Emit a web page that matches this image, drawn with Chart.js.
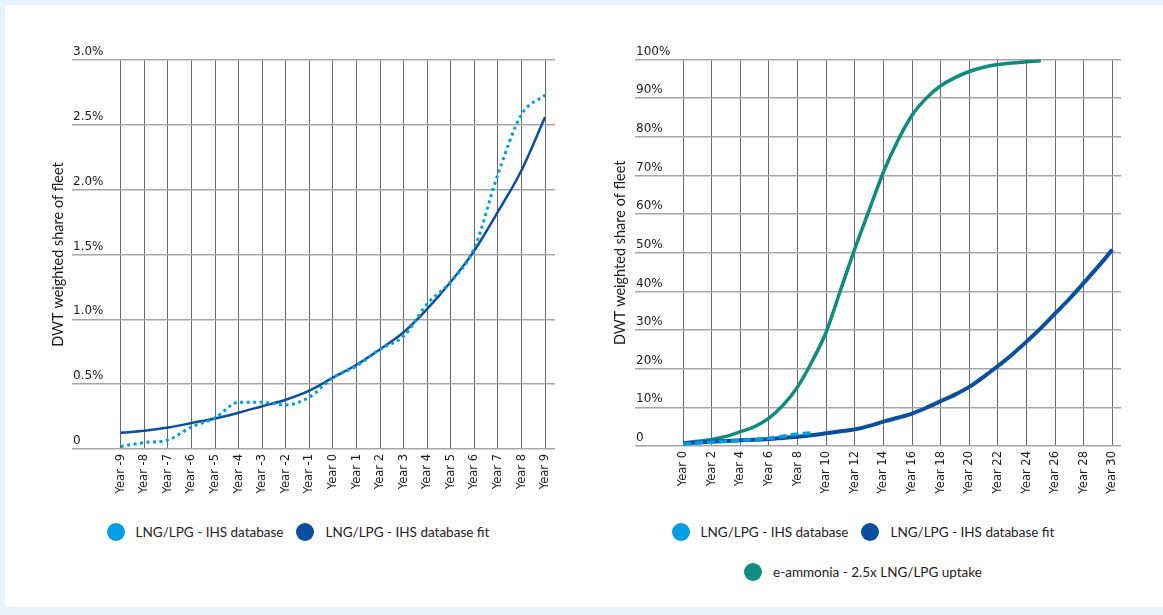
<!DOCTYPE html>
<html>
<head>
<meta charset="utf-8">
<script src="https://cdn.jsdelivr.net/npm/chart.js@4.4.1/dist/chart.umd.min.js"></script>
<style>
  body { margin: 0; width: 1163px; height: 615px; background: #e9f1f9; position: relative; overflow: hidden; font-family: Lato, "Noto Sans", sans-serif; }
  .panel { position: absolute; left: 5px; top: 5px; width: 1158px; height: 602px; background: #fff; }
  canvas { position: absolute; }
  .legend { position: absolute; width: 520px; display: flex; flex-direction: column; align-items: center; gap: 20px; }
  .legend-row { display: flex; align-items: center; gap: 13px; height: 20px; }
  .legend-item { display: flex; align-items: center; gap: 11px; font-size: 13.5px; color: #222; white-space: nowrap; }
  .legend-dot { width: 18px; height: 18px; border-radius: 50%; }
</style>
</head>
<body>
<div class="panel"></div>
<canvas id="historyChart" width="540" height="500" style="left:30px; top:20px;"></canvas>
<canvas id="projectionChart" width="545" height="500" style="left:590px; top:20px;"></canvas>
<div class="legend" id="historyLegend" style="left:38px; top:522px;"></div>
<div class="legend" id="projectionLegend" style="left:603px; top:522px;"></div>

<script>
// Historical uptake, years before/after reference year
const historyYears = [-9, -8, -7, -6, -5, -4, -3, -2, -1, 0, 1, 2, 3, 4, 5, 6, 7, 8, 9];
const historyDatabase = [0.02, 0.05, 0.07, 0.17, 0.24, 0.36, 0.36, 0.34, 0.40, 0.55, 0.64, 0.77, 0.87, 1.12, 1.29, 1.55, 2.12, 2.58, 2.73];
const historyFit = [0.125, 0.14, 0.165, 0.20, 0.235, 0.28, 0.33, 0.38, 0.45, 0.55, 0.65, 0.77, 0.90, 1.08, 1.29, 1.53, 1.83, 2.15, 2.56];
const historyTicks = [0, 0.5, 1.0, 1.5, 2.0, 2.5, 3.0];

// Projection from year 0
const projectionYears = [0, 1, 2, 3, 4, 5, 6, 7, 8, 9, 10, 11, 12, 13, 14, 15, 16, 17, 18, 19, 20, 21, 22, 23, 24, 25, 26, 27, 28, 29, 30];
const projectionDatabase = [0.5, 0.8, 1.0, 1.2, 1.4, 1.7, 2.0, 2.5, 3.1, 3.4];
const projectionFit = [0.7, 0.9, 1.1, 1.3, 1.5, 1.6, 1.8, 2.1, 2.4, 2.8, 3.3, 3.8, 4.3, 5.2, 6.3, 7.3, 8.4, 9.9, 11.6, 13.3, 15.3, 17.9, 20.7, 23.7, 27.0, 30.5, 34.3, 38.1, 42.2, 46.4, 50.8];
const projectionAmmonia = [0.8, 1.2, 1.7, 2.5, 3.7, 5.0, 7.2, 10.6, 15.3, 21.8, 29.5, 40.3, 51.0, 61.0, 70.9, 79.0, 85.6, 90.0, 93.2, 95.3, 96.9, 98.0, 98.7, 99.1, 99.4, 99.7];
const projectionTickYears = [0, 2, 4, 6, 8, 10, 12, 14, 16, 18, 20, 22, 24, 26, 28, 30];
const projectionTicks = [0, 10, 20, 30, 40, 50, 60, 70, 80, 90, 100];

const LIGHT_BLUE = '#009fe3';
const DARK_BLUE = '#0a4f9e';
const GREEN = '#0e8c7f';

Chart.defaults.font.family = '"DejaVu Sans", sans-serif';
Chart.defaults.color = '#1a1a1a';

function toPoints(xs, ys) {
    return ys.map((y, i) => ({ x: xs[i], y: y }));
}

function buildOptions(cfg) {
    return {
        responsive: false,
        animation: false,
        layout: { padding: cfg.padding },
        plugins: { legend: { display: false }, tooltip: { enabled: false } },
        elements: { point: { radius: 0 } },
        scales: {
            x: {
                type: 'linear',
                min: cfg.xMin,
                max: cfg.xMax,
                afterBuildTicks: scale => { scale.ticks = cfg.xTicks.map(v => ({ value: v })); },
                afterFit: scale => { scale.height = 55; },
                border: { display: false },
                grid: { color: '#6a6a6a', lineWidth: 1, drawTicks: false },
                ticks: {
                    autoSkip: false,
                    minRotation: 90,
                    maxRotation: 90,
                    padding: 5,
                    font: { size: 11.5 },
                    callback: v => 'Year ' + v
                }
            },
            y: {
                min: 0,
                max: cfg.yMax,
                afterBuildTicks: scale => { scale.ticks = cfg.yTicks.map(v => ({ value: v })); },
                afterFit: scale => { scale.width = 24; },
                border: { display: false },
                grid: { color: '#a6a6a6', lineWidth: 1.5, drawTicks: false },
                ticks: {
                    mirror: true,
                    padding: 1,
                    labelOffset: -8,
                    font: { size: 12 },
                    callback: cfg.yLabel
                },
                title: {
                    display: true,
                    text: 'DWT weighted share of fleet',
                    color: '#1a1a1a',
                    font: { family: 'Lato, "Noto Sans", sans-serif', size: 14.5 },
                    padding: { top: cfg.titlePad, bottom: 0 }
                }
            }
        }
    };
}

new Chart(document.getElementById('historyChart'), {
    type: 'line',
    data: {
        datasets: [{
            label: 'LNG/LPG - IHS database',
            data: toPoints(historyYears, historyDatabase),
            borderColor: LIGHT_BLUE,
            borderWidth: 3,
            borderDash: [3, 3.5],
            cubicInterpolationMode: 'monotone',
            order: 1
        }, {
            label: 'LNG/LPG - IHS database fit',
            data: toPoints(historyYears, historyFit),
            borderColor: DARK_BLUE,
            borderWidth: 2.5,
            cubicInterpolationMode: 'monotone',
            order: 2
        }]
    },
    options: buildOptions({
        padding: { left: 18, right: 15, top: 40, bottom: 16 },
        xMin: -11.07, xMax: 9.42, xTicks: historyYears,
        yMax: 3.0, yTicks: historyTicks,
        yLabel: v => v === 0 ? '0' : v.toFixed(1) + '%',
        titlePad: 2
    })
});

new Chart(document.getElementById('projectionChart'), {
    type: 'line',
    data: {
        datasets: [{
            label: 'LNG/LPG - IHS database',
            data: toPoints(projectionYears, projectionDatabase),
            borderColor: LIGHT_BLUE,
            borderWidth: 3.5,
            borderDash: [8, 4],
            cubicInterpolationMode: 'monotone',
            order: 1
        }, {
            label: 'LNG/LPG - IHS database fit',
            data: toPoints(projectionYears, projectionFit),
            borderColor: DARK_BLUE,
            borderWidth: 4,
            cubicInterpolationMode: 'monotone',
            order: 2
        }, {
            label: 'e-ammonia - 2.5x LNG/LPG uptake',
            data: toPoints(projectionYears, projectionAmmonia),
            borderColor: GREEN,
            borderWidth: 3.5,
            cubicInterpolationMode: 'monotone',
            order: 3
        }]
    },
    options: buildOptions({
        padding: { left: 21, right: 14, top: 39.5, bottom: 19 },
        xMin: -3.36, xMax: 30.6, xTicks: projectionTickYears,
        yMax: 100, yTicks: projectionTicks,
        yLabel: v => v === 0 ? '0' : v + '%',
        titlePad: 1
    })
});

// HTML legends, one row per group of items
function buildLegend(id, rows) {
    const box = document.getElementById(id);
    rows.forEach(items => {
        const row = document.createElement('div');
        row.className = 'legend-row';
        items.forEach(([color, text]) => {
            const item = document.createElement('div');
            item.className = 'legend-item';
            item.innerHTML = `<span class="legend-dot" style="background:${color}"></span><span>${text}</span>`;
            row.appendChild(item);
        });
        box.appendChild(row);
    });
}

buildLegend('historyLegend', [
    [[LIGHT_BLUE, 'LNG/LPG - IHS database'], [DARK_BLUE, 'LNG/LPG - IHS database fit']]
]);
buildLegend('projectionLegend', [
    [[LIGHT_BLUE, 'LNG/LPG - IHS database'], [DARK_BLUE, 'LNG/LPG - IHS database fit']],
    [[GREEN, 'e-ammonia - 2.5x LNG/LPG uptake']]
]);
</script>
</body>
</html>
